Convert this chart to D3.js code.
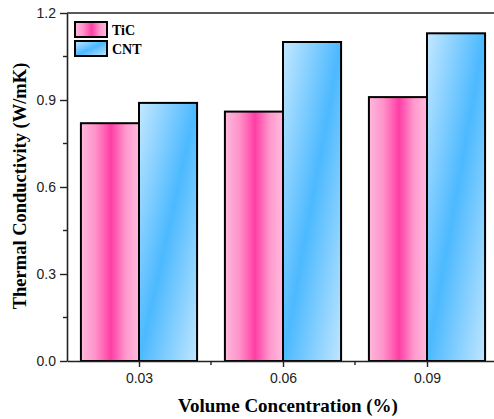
<!DOCTYPE html>
<html>
<head>
<meta charset="utf-8">
<script src="https://cdn.jsdelivr.net/npm/d3@7"></script>
<style>
  body { margin: 0; background: #fff; }
  svg { display: block; }
</style>
</head>
<body>
<div id="chart"></div>
<script>
// data
var categories = ["0.03", "0.06", "0.09"];
var concentrations = [0.03, 0.06, 0.09];
var ticValues = [0.82, 0.86, 0.91];
var cntValues = [0.89, 1.10, 1.13];
var seriesNames = ["TiC", "CNT"];
var yTicks = [0.0, 0.3, 0.6, 0.9, 1.2];
var yMinorTicks = [0.15, 0.45, 0.75, 1.05];
var xMinorTicks = [0.045, 0.075];

var width = 494, height = 419;
var plotLeft = 67, plotTop = 13, plotBottom = 361, plotRight = 499;
var barW = 0.0121; // in x units

var svg = d3.select("#chart").append("svg")
    .attr("width", width)
    .attr("height", height);

var x = d3.scaleLinear().domain([0.015, 0.105]).range([plotLeft, plotRight]);
var y = d3.scaleLinear().domain([0, 1.2]).range([plotBottom, plotTop]);

var defs = svg.append("defs");
var pink = defs.append("linearGradient")
    .attr("id", "pinkGrad")
    .attr("x1", 0).attr("y1", 0).attr("x2", 1).attr("y2", 0);
pink.append("stop").attr("offset", "0%").attr("stop-color", "#ffbadf");
pink.append("stop").attr("offset", "25%").attr("stop-color", "#ff92c9");
pink.append("stop").attr("offset", "52%").attr("stop-color", "#ff3ea6");
pink.append("stop").attr("offset", "78%").attr("stop-color", "#ff9acd");
pink.append("stop").attr("offset", "100%").attr("stop-color", "#ffbade");

var blue = defs.append("linearGradient")
    .attr("id", "blueGrad")
    .attr("x1", 0).attr("y1", 0).attr("x2", 1).attr("y2", 1);
blue.append("stop").attr("offset", "0%").attr("stop-color", "#c4e8ff");
blue.append("stop").attr("offset", "50%").attr("stop-color", "#4cb9ff");
blue.append("stop").attr("offset", "100%").attr("stop-color", "#c0e6ff");

var rows = concentrations.map(function(c, i) {
    return { c: c, label: categories[i], tic: ticValues[i], cnt: cntValues[i] };
});

// bars
var groups = svg.selectAll(".grp")
    .data(rows)
    .enter().append("g")
    .attr("class", "grp");

groups.append("rect")
    .attr("x", function(d) { return x(d.c - barW); })
    .attr("y", function(d) { return y(d.tic); })
    .attr("width", function(d) { return x(d.c) - x(d.c - barW); })
    .attr("height", function(d) { return y(0) - y(d.tic); })
    .style("fill", "url(#pinkGrad)")
    .style("stroke", "#000")
    .style("stroke-width", 2);

groups.append("rect")
    .attr("x", function(d) { return x(d.c); })
    .attr("y", function(d) { return y(d.cnt); })
    .attr("width", function(d) { return x(d.c + barW) - x(d.c); })
    .attr("height", function(d) { return y(0) - y(d.cnt); })
    .style("fill", "url(#blueGrad)")
    .style("stroke", "#000")
    .style("stroke-width", 2);

// axes
var axisColor = "#222";
var yAxis = svg.append("g")
    .attr("transform", "translate(" + plotLeft + ",0)")
    .call(d3.axisLeft(y).tickValues(yTicks).tickFormat(d3.format(".1f")).tickSize(7).tickSizeOuter(0));
var xAxis = svg.append("g")
    .attr("transform", "translate(0," + plotBottom + ")")
    .call(d3.axisBottom(x).tickValues(concentrations).tickFormat(function(d, i) { return categories[i]; }).tickSize(6).tickSizeOuter(0));

[yAxis, xAxis].forEach(function(a) {
    a.select(".domain").style("stroke", axisColor).style("stroke-width", 1.6);
    a.selectAll(".tick line").style("stroke", axisColor).style("stroke-width", 1.4);
    a.selectAll("text")
        .style("font-family", "'Liberation Sans', Arial, sans-serif")
        .style("font-size", "14px")
        .style("fill", "#222");
});
yAxis.selectAll("text").attr("x", -11);
xAxis.selectAll("text").attr("y", 12);

// minor ticks
svg.selectAll(".yminor")
    .data(yMinorTicks)
    .enter().append("line")
    .attr("x1", plotLeft - 4).attr("x2", plotLeft)
    .attr("y1", function(d) { return y(d); })
    .attr("y2", function(d) { return y(d); })
    .style("stroke", axisColor).style("stroke-width", 1.4);
svg.selectAll(".xminor")
    .data(xMinorTicks)
    .enter().append("line")
    .attr("x1", function(d) { return x(d); })
    .attr("x2", function(d) { return x(d); })
    .attr("y1", plotBottom).attr("y2", plotBottom + 4)
    .style("stroke", axisColor).style("stroke-width", 1.4);

// top frame line
svg.append("line")
    .attr("x1", plotLeft).attr("x2", plotRight)
    .attr("y1", y(1.2)).attr("y2", y(1.2))
    .style("stroke", axisColor).style("stroke-width", 1.6);

// axis titles
svg.append("text")
    .attr("transform", "translate(26," + 186 + ") rotate(-90)")
    .attr("text-anchor", "middle")
    .style("font-family", "'Liberation Serif', 'Times New Roman', serif")
    .style("font-weight", "bold")
    .style("font-size", "18.5px")
    .text("Thermal Conductivity (W/mK)");

svg.append("text")
    .attr("x", 288)
    .attr("y", 412)
    .attr("text-anchor", "middle")
    .style("font-family", "'Liberation Serif', 'Times New Roman', serif")
    .style("font-weight", "bold")
    .style("font-size", "19px")
    .text("Volume Concentration (%)");

// legend
var legendFills = ["url(#pinkGrad)", "url(#blueGrad)"];
var legend = svg.selectAll(".legend")
    .data(seriesNames)
    .enter().append("g")
    .attr("class", "legend")
    .attr("transform", function(d, i) { return "translate(75," + (22 + i * 19) + ")"; });
legend.append("rect")
    .attr("width", 32).attr("height", 15)
    .style("fill", function(d, i) { return legendFills[i]; })
    .style("stroke", "#000")
    .style("stroke-width", 2);
legend.append("text")
    .attr("x", 37).attr("y", 12.5)
    .style("font-family", "'Liberation Serif', 'Times New Roman', serif")
    .style("font-weight", "bold")
    .style("font-size", "14px")
    .text(function(d) { return d; });
</script>
</body>
</html>
